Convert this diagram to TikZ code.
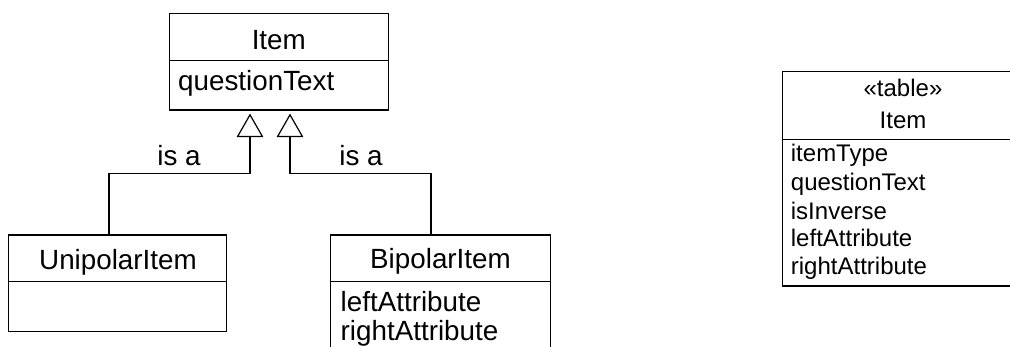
\documentclass[tikz,border=0pt]{standalone}
\usepackage{fontspec}
\setmainfont{Liberation Sans}
\usetikzlibrary{arrows.meta}

\tikzset{
  umlbox/.style={draw, rectangle, line width=1.2pt, inner sep=0pt},
  divider/.style={line width=1.2pt},
  bigtext/.style={inner sep=0pt, font=\fontsize{27.8}{30}\selectfont},
  smalltext/.style={inner sep=0pt, font=\fontsize{24}{26}\selectfont},
  isa/.style={line width=1.2pt, line join=miter,
    -{Triangle[open, length=23.5pt, width=26.6pt]}},
}

\begin{document}
\begin{tikzpicture}[x=1pt, y=-1pt]
\useasboundingbox (0,0) rectangle (1010,346);
\clip (0,0) rectangle (1010,346);

% class Item
\node[umlbox, minimum width=219pt, minimum height=96.7pt] (item) at (278.8,61.65) {};
\draw[divider] (item.north west) ++(0,47.7) -- ++(219,0);
\node[bigtext, anchor=base] (itemname) at (278.8,49.3) {Item};
\node[bigtext, anchor=base west] (itemq) at (178,90) {questionText};

% class UnipolarItem
\node[umlbox, minimum width=218.4pt, minimum height=96.7pt] (uni) at (117.5,283.35) {};
\draw[divider] (uni.north west) ++(0,47) -- ++(218.4,0);
\node[bigtext, anchor=base] (uniname) at (118,269.3) {UnipolarItem};

% class BipolarItem
\node[umlbox, minimum width=220pt, minimum height=135pt] (bi) at (440.5,302.5) {};
\draw[divider] (bi.north west) ++(0,47) -- ++(220,0);
\node[bigtext, anchor=base] (biname) at (440.5,268) {BipolarItem};
\node[bigtext, anchor=base west] (bileft) at (340.5,311) {leftAttribute};
\node[bigtext, anchor=base west] (biright) at (340.5,340) {rightAttribute};

% generalisations
\draw[isa] ([xshift=-8.5pt]uni.north) -- ++(0,-60.7)
  -| ([xshift=-28.8pt,yshift=-3pt]item.south);
\draw[isa] ([xshift=-9.5pt]bi.north) -- ++(0,-60.7)
  -| ([xshift=11.2pt,yshift=-3pt]item.south);
\node[bigtext, anchor=base] (isaleft) at (179,165) {is a};
\node[bigtext, anchor=base] (isaright) at (361,165) {is a};

% table Item
\node[umlbox, minimum width=241.7pt, minimum height=214.3pt] (tbl) at (903.15,178.85) {};
\draw[divider] (tbl.north west) ++(0,68.3) -- ++(241.7,0);
\node[smalltext, anchor=base] (tblstereo) at (903,96.7) {«table»};
\node[smalltext, anchor=base] (tblname) at (903,128.3) {Item};
\node[smalltext, anchor=base west] (col1) at (790.7,161.7) {itemType};
\node[smalltext, anchor=base west] (col2) at (790.7,190.5) {questionText};
\node[smalltext, anchor=base west] (col3) at (790.7,219) {isInverse};
\node[smalltext, anchor=base west] (col4) at (790.7,246.7) {leftAttribute};
\node[smalltext, anchor=base west] (col5) at (790.7,274) {rightAttribute};
\end{tikzpicture}
\end{document}
